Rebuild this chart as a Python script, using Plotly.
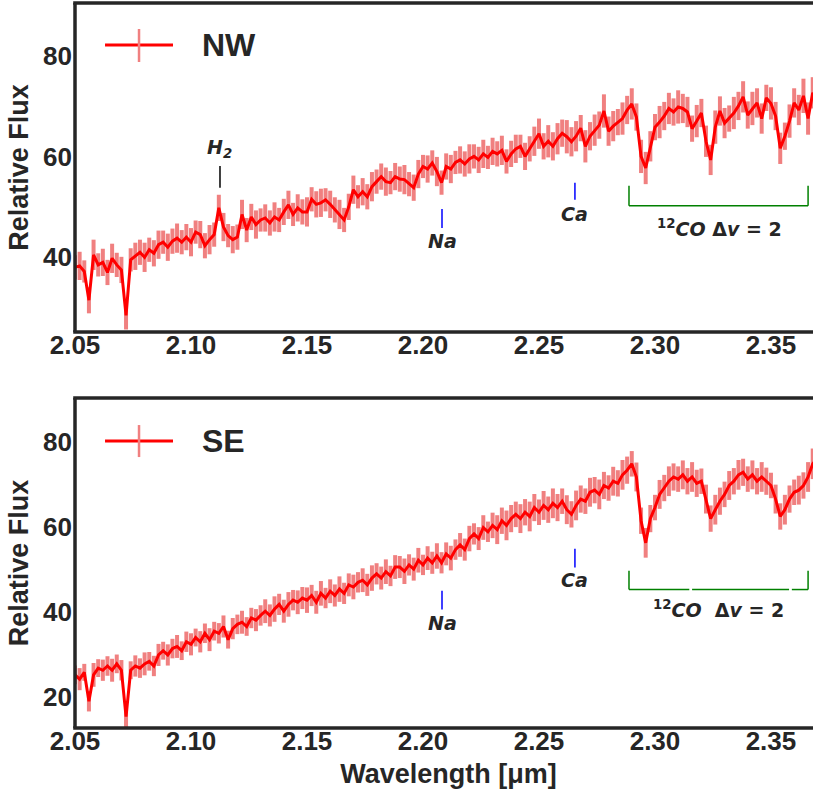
import plotly.graph_objects as go

# ---------------- data ----------------
WAVE = [2.050, 2.052, 2.054, 2.056, 2.058, 2.060, 2.062, 2.064, 2.066, 2.068,
        2.070, 2.072, 2.074, 2.076, 2.078, 2.080, 2.082, 2.084, 2.086, 2.088,
        2.090, 2.092, 2.094, 2.096, 2.098, 2.100, 2.102, 2.104, 2.106, 2.108,
        2.110, 2.112, 2.114, 2.116, 2.118, 2.120, 2.122, 2.124, 2.126, 2.128,
        2.130, 2.132, 2.134, 2.136, 2.138, 2.140, 2.142, 2.144, 2.146, 2.148,
        2.150, 2.152, 2.154, 2.156, 2.158, 2.160, 2.162, 2.164, 2.166, 2.168,
        2.170, 2.172, 2.174, 2.176, 2.178, 2.180, 2.182, 2.184, 2.186, 2.188,
        2.190, 2.192, 2.194, 2.196, 2.198, 2.200, 2.202, 2.204, 2.206, 2.208,
        2.210, 2.212, 2.214, 2.216, 2.218, 2.220, 2.222, 2.224, 2.226, 2.228,
        2.230, 2.232, 2.234, 2.236, 2.238, 2.240, 2.242, 2.244, 2.246, 2.248,
        2.250, 2.252, 2.254, 2.256, 2.258, 2.260, 2.262, 2.264, 2.266, 2.268,
        2.270, 2.272, 2.274, 2.276, 2.278, 2.280, 2.282, 2.284, 2.286, 2.288,
        2.290, 2.292, 2.294, 2.296, 2.298, 2.300, 2.302, 2.304, 2.306, 2.308,
        2.310, 2.312, 2.314, 2.316, 2.318, 2.320, 2.322, 2.324, 2.326, 2.328,
        2.330, 2.332, 2.334, 2.336, 2.338, 2.340, 2.342, 2.344, 2.346, 2.348,
        2.350, 2.352, 2.354, 2.356, 2.358, 2.360, 2.362, 2.364, 2.366, 2.368,
        2.370, 2.372]

FLUX_NW = [38.0, 38.3, 37.2, 31.5, 40.5, 38.5, 39.0, 37.0, 39.8, 38.5,
           37.5, 28.5, 39.5, 40.2, 41.0, 40.0, 41.5, 40.8, 42.5, 43.0,
           42.0, 43.2, 43.8, 43.0, 44.0, 43.0, 45.0, 44.5, 42.3, 43.5,
           44.5, 49.8, 46.0, 44.3, 43.5, 44.0, 48.5, 45.4, 48.0, 46.5,
           47.4, 47.8, 46.8, 48.0, 47.4, 49.0, 50.4, 48.5, 49.8, 49.0,
           49.0, 51.5, 50.5, 50.8, 51.4, 50.5, 49.4, 48.5, 47.4, 50.0,
           53.4, 52.0, 53.0, 52.0, 54.0, 55.0, 56.0, 55.0, 54.8, 56.0,
           55.5, 55.4, 54.5, 53.8, 56.5, 58.0, 57.5, 58.7, 57.0, 54.8,
           58.0, 57.5, 58.8, 59.3, 58.5, 59.5, 60.0, 59.3, 60.5, 59.8,
           61.0, 60.5, 61.2, 59.0, 60.5, 61.5, 62.0, 60.0, 61.5, 63.0,
           64.5, 62.0, 63.0, 62.0, 63.5, 64.6, 63.9, 62.9, 64.0, 65.6,
           62.0, 64.0, 65.2, 66.2, 69.0, 65.0, 66.0, 66.8, 67.5, 69.2,
           70.4, 67.8, 60.0, 57.7, 62.0, 65.8, 66.8, 68.0, 69.5, 68.8,
           69.8, 69.5, 68.8, 65.5, 67.0, 68.6, 63.0, 59.3, 65.8, 69.0,
           66.6, 67.5, 68.6, 70.0, 71.8, 68.2, 69.5, 70.6, 67.5, 71.6,
           70.5, 68.0, 61.6, 64.0, 67.0, 70.6, 69.2, 72.0, 67.5, 72.6,
           71.0, 72.0]

ERR_NW = [2.4, 2.8, 2.2, 2.6, 3.0, 2.3, 2.7, 2.5, 2.9, 2.4,
          2.6, 2.8, 2.3, 2.7, 2.5, 2.9, 2.4, 2.6, 2.8, 2.3,
          2.7, 2.5, 2.9, 2.4, 2.6, 2.8, 2.3, 2.7, 2.5, 2.9,
          2.4, 2.6, 2.8, 2.3, 2.7, 2.5, 2.9, 2.4, 2.6, 2.8,
          2.3, 2.7, 2.5, 2.9, 2.4, 2.6, 2.8, 2.3, 2.7, 2.5,
          2.9, 2.4, 2.6, 2.8, 2.3, 2.7, 2.5, 2.9, 2.4, 2.6,
          2.8, 2.3, 2.7, 2.5, 2.9, 2.4, 2.6, 2.8, 2.3, 2.7,
          2.5, 2.9, 2.4, 2.6, 2.8, 2.3, 2.7, 2.5, 2.9, 2.4,
          2.6, 2.8, 2.3, 2.7, 2.5, 2.9, 2.4, 2.6, 2.8, 2.3,
          2.7, 2.5, 2.9, 2.4, 2.6, 2.8, 2.3, 2.7, 2.5, 2.9,
          3.0, 2.6, 3.2, 2.8, 3.1, 2.7, 3.3, 2.9, 3.0, 2.6,
          3.2, 2.8, 3.1, 2.7, 3.3, 2.9, 3.0, 2.6, 3.2, 2.8,
          3.1, 2.7, 3.3, 3.2, 3.0, 2.6, 3.2, 2.8, 3.1, 2.7,
          3.3, 2.9, 3.0, 2.6, 3.2, 2.8, 3.1, 3.0, 3.3, 2.9,
          3.0, 2.6, 3.2, 2.8, 3.1, 2.7, 3.3, 2.9, 3.0, 2.6,
          3.2, 2.8, 3.1, 2.7, 3.3, 2.9, 3.0, 3.4, 3.2, 3.1,
          3.2, 3.0]

FLUX_SE = [25.1, 24.1, 25.7, 18.9, 25.1, 26.7, 26.2, 27.2, 26.2, 27.7,
           26.2, 15.3, 26.2, 27.2, 26.7, 27.7, 28.3, 27.2, 29.8, 30.8,
           29.8, 31.3, 31.8, 30.8, 32.9, 32.3, 33.9, 32.9, 34.9, 33.4,
           35.4, 34.9, 36.5, 33.4, 36.0, 37.0, 37.5, 36.5, 38.5, 38.0,
           39.1, 40.1, 39.1, 40.6, 41.7, 40.1, 41.7, 42.7, 42.2, 43.2,
           42.7, 43.8, 42.2, 44.3, 43.2, 44.8, 43.8, 45.3, 44.3, 46.3,
           45.8, 46.9, 47.4, 46.3, 47.9, 48.9, 47.9, 49.4, 48.4, 50.5,
           50.5, 49.5, 51.0, 50.0, 52.1, 51.0, 52.6, 51.5, 53.1, 51.5,
           53.6, 52.6, 54.6, 55.7, 54.6, 57.2, 58.3, 57.2, 59.8, 58.8,
           60.3, 59.3, 61.4, 60.3, 61.9, 62.9, 61.9, 63.4, 62.4, 64.5,
           63.4, 65.0, 64.0, 65.5, 64.5, 66.0, 64.0, 62.9, 65.0, 66.5,
           66.0, 68.1, 68.6, 67.6, 69.7, 69.1, 70.7, 70.2, 72.2, 73.3,
           74.8, 71.7, 61.4, 56.2, 61.9, 64.5, 67.6, 69.1, 70.7, 71.7,
           71.2, 72.2, 70.7, 71.7, 70.2, 70.7, 66.5, 61.9, 64.0, 66.0,
           67.6, 69.7, 70.7, 72.2, 72.8, 71.2, 72.2, 70.7, 71.7, 70.7,
           69.7, 66.5, 62.4, 64.0, 66.5, 68.1, 68.6, 69.7, 71.7, 74.8,
           76.0, 75.0]

ERR_SE = [2.2, 2.6, 2.0, 2.4, 2.8, 2.1, 2.5, 2.3, 2.7, 2.2,
          2.4, 2.6, 2.1, 2.5, 2.3, 2.7, 2.2, 2.4, 2.6, 2.1,
          2.5, 2.3, 2.7, 2.2, 2.4, 2.6, 2.1, 2.5, 2.3, 2.7,
          2.2, 2.4, 2.6, 2.1, 2.5, 2.3, 2.7, 2.2, 2.4, 2.6,
          2.4, 2.8, 2.6, 3.0, 2.5, 2.7, 2.9, 2.4, 2.8, 2.6,
          3.0, 2.5, 2.7, 2.9, 2.4, 2.8, 2.6, 3.0, 2.5, 2.7,
          2.9, 2.4, 2.8, 2.6, 3.0, 2.5, 2.7, 2.9, 2.4, 2.8,
          2.6, 3.0, 2.5, 2.7, 2.9, 2.4, 2.8, 2.6, 3.0, 2.5,
          2.7, 2.9, 2.4, 2.8, 2.6, 3.0, 2.5, 2.7, 2.9, 2.4,
          3.0, 3.4, 3.1, 3.5, 3.2, 3.0, 3.4, 3.1, 3.5, 3.2,
          3.0, 3.4, 3.1, 3.5, 3.2, 3.0, 3.4, 3.1, 3.5, 3.2,
          3.0, 3.4, 3.1, 3.5, 3.2, 3.0, 3.4, 3.1, 3.5, 3.2,
          3.0, 3.4, 3.1, 3.5, 3.2, 3.0, 3.4, 3.1, 3.5, 3.2,
          3.0, 3.4, 3.1, 3.5, 3.2, 3.0, 3.4, 3.1, 3.5, 3.2,
          3.0, 3.4, 3.1, 3.5, 3.2, 3.0, 3.4, 3.1, 3.5, 3.2,
          3.0, 3.4, 3.1, 3.5, 3.2, 3.0, 3.4, 3.1, 3.5, 3.6,
          3.4, 3.5]

X_TICKS = [2.05, 2.10, 2.15, 2.20, 2.25, 2.30, 2.35]
X_RANGE = [2.05, 2.3720]
Y_TICKS_NW = [40, 60, 80]
Y_TICKS_SE = [20, 40, 60, 80]
Y_RANGE_NW = [25.2, 90.4]
Y_RANGE_SE = [12.6, 90.3]

H2_WAVE = 2.1125
NA_WAVE = 2.2082
CA_WAVE = 2.2655
CO_BAND = [2.2888, 2.3660]

# ---------------- styling ----------------
DARK = "#262626"
RED = "#ff0000"
PINK = "#f08080"
SANS = "Liberation Sans, Arial, sans-serif"
TICKFONT = dict(family=SANS, size=26, color=DARK, weight="bold")
TITLEFONT = dict(family=SANS, size=27, color=DARK, weight="bold")
ANNFONT = dict(family="DejaVu Sans", size=19, color=DARK)

fig = go.Figure()

for flux, err, xa, ya in [(FLUX_NW, ERR_NW, "x", "y"), (FLUX_SE, ERR_SE, "x2", "y2")]:
    fig.add_trace(go.Scatter(
        x=WAVE, y=flux, xaxis=xa, yaxis=ya, mode="lines",
        line=dict(color=RED, width=3),
        error_y=dict(type="data", array=err, visible=True, color=PINK,
                     thickness=4.0, width=0),
        showlegend=False, hoverinfo="skip"))

axis_common = dict(showline=False, showgrid=False, zeroline=False, ticks="",
                   tickfont=TICKFONT, fixedrange=True)

# the figure is a little wider than the 813 px window: its right edge is cut off,
# as in the reference
fig.update_layout(
    width=822, height=792,
    margin=dict(l=75, r=0, t=3, b=64),
    paper_bgcolor="white", plot_bgcolor="white",
    dragmode=False,
    xaxis=dict(domain=[0, 1], anchor="y", range=X_RANGE, tickvals=X_TICKS,
               ticktext=[f"{v:.2f}" for v in X_TICKS],
               ticklabelstandoff=-5, **axis_common),
    yaxis=dict(domain=[0.5462, 1], anchor="x", range=Y_RANGE_NW, tickvals=Y_TICKS_NW,
               ticklabelstandoff=2,
               title=dict(text="Relative Flux", font=TITLEFONT, standoff=6), **axis_common),
    xaxis2=dict(domain=[0, 1], anchor="y2", range=X_RANGE, tickvals=X_TICKS,
                ticktext=[f"{v:.2f}" for v in X_TICKS],
                ticklabelstandoff=-5,
                title=dict(text="Wavelength [μm]", font=TITLEFONT, standoff=9), **axis_common),
    yaxis2=dict(domain=[0, 0.4552], anchor="x2", range=Y_RANGE_SE, tickvals=Y_TICKS_SE,
                ticklabelstandoff=2,
                title=dict(text="Relative Flux", font=TITLEFONT, standoff=6), **axis_common),
)

shapes = []
anns = []

# spines (top, bottom, left)
for xr, yr in [("x domain", "y domain"), ("x2 domain", "y2 domain")]:
    for yy in [0, 1]:
        shapes.append(dict(type="line", xref=xr, yref=yr, x0=-0.0024, x1=1.0, y0=yy, y1=yy,
                           line=dict(color=DARK, width=3.5), layer="above"))
    shapes.append(dict(type="line", xref=xr, yref=yr, x0=0, x1=0, y0=0, y1=1,
                       line=dict(color=DARK, width=3.5), layer="above"))

def vline(x, y0, y1, color, xr, yr, w=1.5):
    shapes.append(dict(type="line", x0=x, x1=x, y0=y0, y1=y1, xref=xr, yref=yr,
                       line=dict(color=color, width=w)))

def label(x, y, text, xr, yr):
    anns.append(dict(x=x, y=y, xref=xr, yref=yr, text=text, showarrow=False,
                     font=ANNFONT, xanchor="center", yanchor="middle"))

# top panel features
vline(H2_WAVE, 53.8, 58.1, "black", "x", "y")
label(H2_WAVE, 61.5, "<b><i>H<sub>2</sub></i></b>", "x", "y")
vline(NA_WAVE, 45.8, 49.6, "blue", "x", "y")
label(NA_WAVE, 43.2, "<b><i>Na</i></b>", "x", "y")
vline(CA_WAVE, 51.4, 54.8, "blue", "x", "y")
label(CA_WAVE, 48.6, "<b><i>Ca</i></b>", "x", "y")
for xb in CO_BAND:
    vline(xb, 50.2, 54.2, "green", "x", "y")
shapes.append(dict(type="line", x0=CO_BAND[0], x1=CO_BAND[1], y0=50.2, y1=50.2,
                   xref="x", yref="y", line=dict(color="green", width=1.5)))
label(2.3278, 45.8, "<b><sup>12</sup><i>CO</i> Δ<i>v</i> = 2</b>", "x", "y")

# bottom panel features
vline(NA_WAVE, 40.5, 44.9, "blue", "x2", "y2")
label(NA_WAVE, 37.4, "<b><i>Na</i></b>", "x2", "y2")
vline(CA_WAVE, 50.4, 54.8, "blue", "x2", "y2")
label(CA_WAVE, 47.5, "<b><i>Ca</i></b>", "x2", "y2")
for xb in CO_BAND:
    vline(xb, 45.2, 49.6, "green", "x2", "y2")
for seg in [(CO_BAND[0], 2.3148), (2.3160, 2.3578), (2.3590, CO_BAND[1])]:
    shapes.append(dict(type="line", x0=seg[0], x1=seg[1], y0=45.2, y1=45.2,
                       xref="x2", yref="y2", line=dict(color="green", width=1.5)))
label(2.3275, 40.7, "<b><sup>12</sup><i>CO</i>  Δ<i>v</i> = 2</b>", "x2", "y2")

# manual legends
for name, xr, yr, yc, yt, yb in [("NW", "x domain", "y domain", 0.8723, 0.9210, 0.8207),
                                 ("SE", "x2 domain", "y2 domain", 0.8697, 0.9180, 0.8210)]:
    shapes.append(dict(type="line", xref=xr, yref=yr, x0=0.0402, x1=0.1312,
                       y0=yc, y1=yc, line=dict(color=RED, width=3)))
    shapes.append(dict(type="line", xref=xr, yref=yr, x0=0.0857, x1=0.0857,
                       y0=yb, y1=yt, line=dict(color=PINK, width=2.5)))
    anns.append(dict(xref=xr, yref=yr, x=0.1673, y=yc, text=f"<b>{name}</b>",
                     showarrow=False, xanchor="left", yanchor="middle",
                     font=dict(family=SANS, size=32, color=DARK)))

fig.update_layout(shapes=shapes, annotations=anns)
fig.write_html("out.html", config={"displayModeBar": False})
